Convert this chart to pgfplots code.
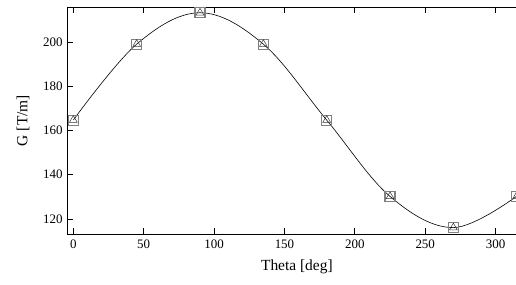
\documentclass[border=0pt]{standalone}
\usepackage{pgfplots}
\pgfplotsset{compat=1.18}
\usepackage{fontspec}
\setmainfont{Liberation Serif}
\begin{document}
\begin{tikzpicture}
\begin{axis}[
  name=ax,
  scale only axis,
  width=449bp, height=227bp,
  xmin=-4.5, xmax=314.5,
  ymin=113.2, ymax=215.8,
  axis y line*=left,
  xtick={0,50,100,150,200,250,300},
  ytick={120,140,160,180,200},
  tick align=inside,
  major tick length=6bp,
  tick style={line width=0.8pt, black},
  axis line style={line width=0.8pt, -},
  /pgf/number format/assume math mode=true,
  ticklabel style={font=\fontsize{13}{15}\selectfont},
  xticklabel style={yshift=-2bp},
  yticklabel style={xshift=-1bp},
  label style={font=\fontsize{15.5}{17}\selectfont},
  xlabel={Theta [deg]},
  ylabel={G [T/m]},
  xlabel style={at={(axis description cs:0.512,0)}, anchor=center, yshift=-33bp},
  ylabel style={at={(axis description cs:-0.098,0.5)}, anchor=center},
  clip=false,
]
\addplot[black, line width=0.6pt, smooth, tension=0.6] coordinates {
 (0,164.7) (45,199) (90,213.2) (135,199) (180,164.7) (225,130.2) (270,116.1) (315,130.3)
};
\addplot[only marks, mark=square, mark size=5bp, draw=gray, mark options={line width=1.1pt}] coordinates {
 (0,164.7) (45,199) (90,213.2) (135,199) (180,164.7) (225,130.2) (270,116.1) (315,130.3)
};
\addplot[only marks, mark=triangle, mark size=4.5bp, draw=black!80, mark options={line width=0.5pt}] coordinates {
 (0,164.7) (45,199) (90,213.2) (135,199) (180,164.7) (225,130.2) (270,116.1) (315,130.3)
};
\end{axis}
\pgfresetboundingbox
\path[use as bounding box] ([xshift=-67bp,yshift=-51bp]ax.south west) rectangle ([yshift=7bp]ax.north east);
\end{tikzpicture}
\end{document}
